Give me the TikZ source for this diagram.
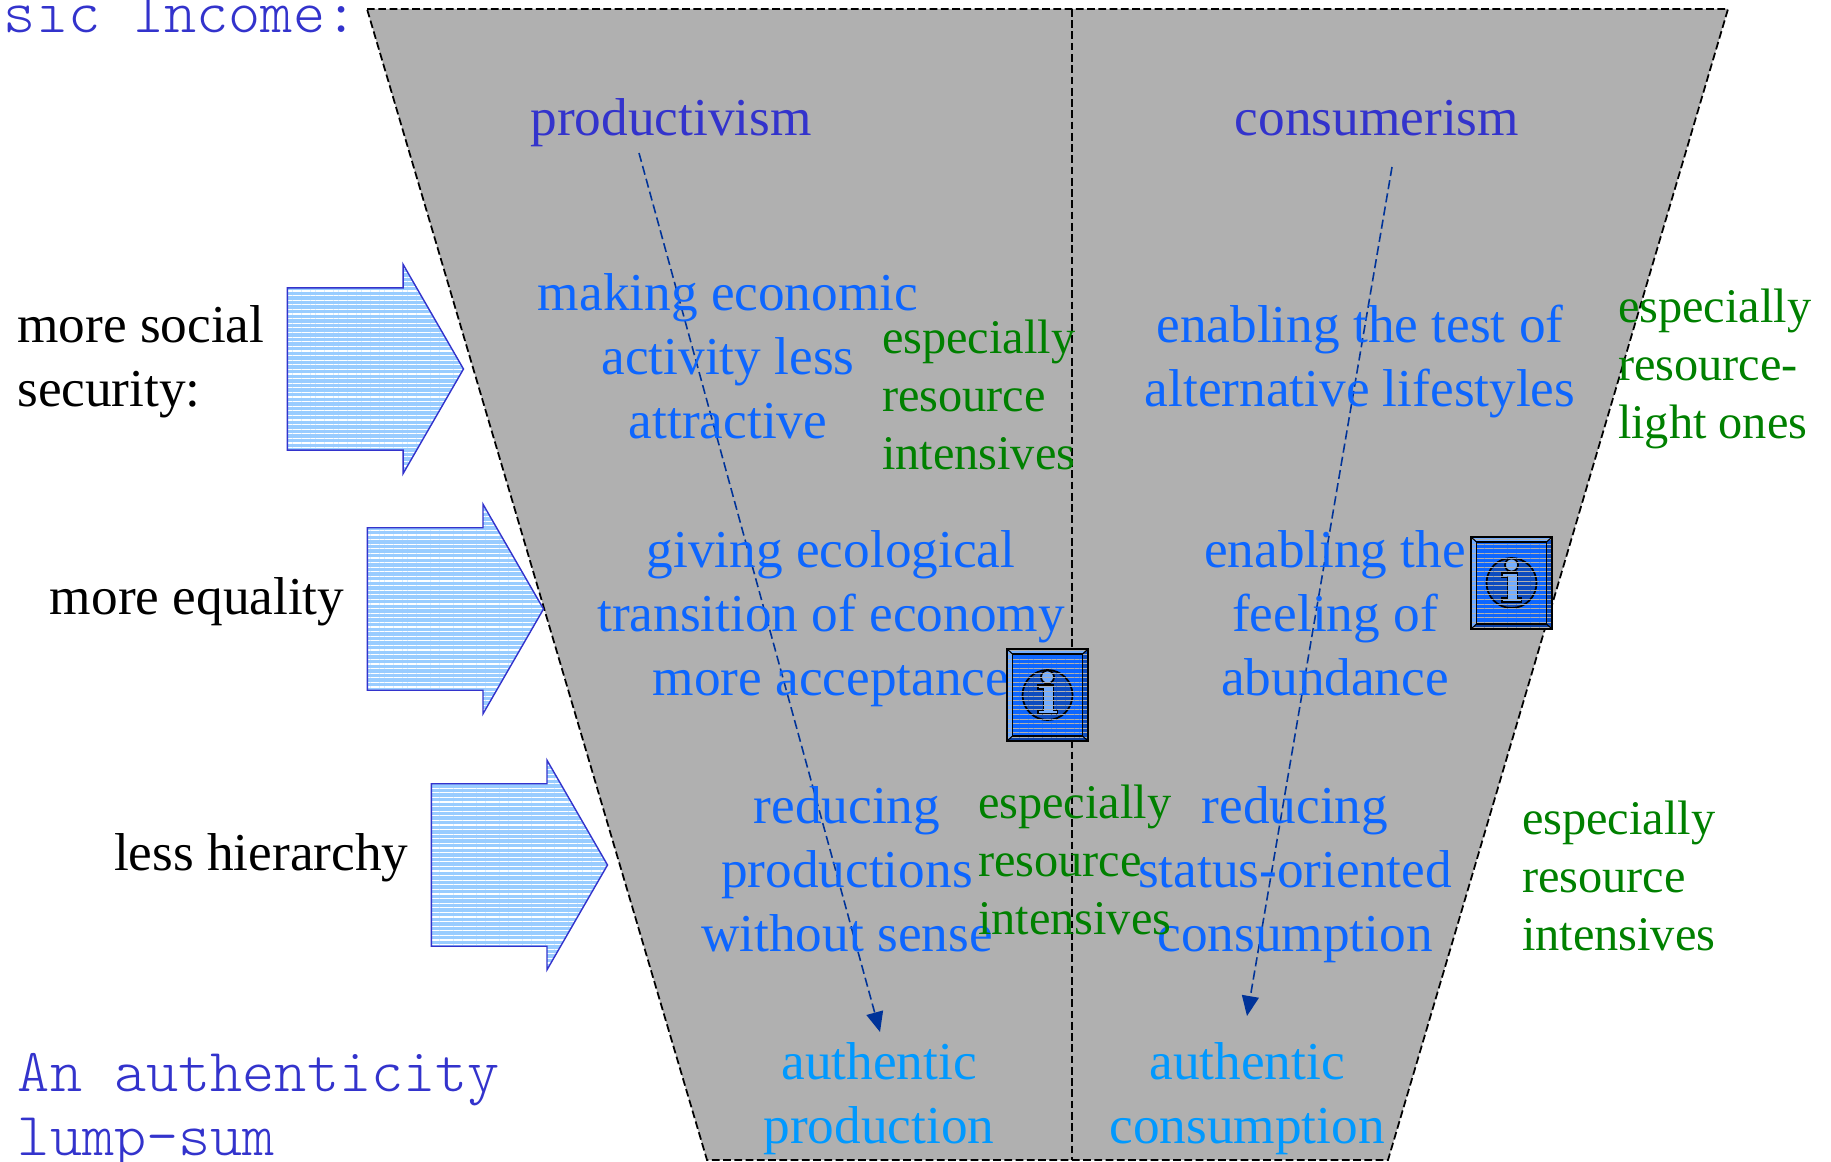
\documentclass[tikz,border=0pt]{standalone}
\usepackage{fontspec}
\setmainfont{Liberation Serif}
\setmonofont{Latin Modern Mono Light}
\usepackage{xcolor}
\usetikzlibrary{shapes.arrows, arrows.meta, positioning, patterns.meta}
\definecolor{funnelgray}{rgb}{0.69,0.69,0.69}
\definecolor{outlineblue}{rgb}{0.2,0.2,0.8}
\definecolor{hatchblue}{rgb}{0.6,0.8,1}
\definecolor{textblue}{rgb}{0.05,0.4,1}
\definecolor{skyblue}{rgb}{0,0.6,1}
\definecolor{darkarrow}{rgb}{0,0.2,0.6}
\definecolor{notegreen}{rgb}{0,0.5,0}
\definecolor{infolight}{rgb}{0.45,0.68,1}
\definecolor{infomid}{rgb}{0.05,0.3,0.75}
\definecolor{infodark}{rgb}{0.04,0.25,0.65}
\tikzset{
    base/.style={inner sep=0pt, outer sep=0pt, align=center, font=\fontsize{15.15}{18.2}\selectfont},
    heading/.style={base, text=outlineblue},
    effect/.style={base, text=textblue},
    goal/.style={base, text=skyblue},
    note/.style={base, align=left, text=notegreen, font=\fontsize{13.75}{16.5}\selectfont},
    cause/.style={base, align=left, text=black, yshift=0.07cm},
    monotext/.style={base, align=left, text=outlineblue, font=\fontsize{17.4}{18.2}\selectfont\ttfamily},
    bigarrow/.style={single arrow, draw=outlineblue, line width=0.4pt, inner xsep=0pt, inner ysep=0.805cm, outer sep=0pt,
        minimum height=1.76cm, single arrow head extend=0.235cm,
        single arrow tip angle=120, single arrow head indent=0cm, preaction={fill=hatchblue},
        pattern={Lines[angle=0, distance=0.46mm, line width=0.12mm]}, pattern color=white},
    border/.style={draw=black, line width=0.5pt, dash pattern=on 2.2pt off 1pt},
    line/.style={draw=darkarrow, line width=0.45pt, dash pattern=on 2.6pt off 1.2pt, -{Triangle[length=0.2cm, width=0.17cm]}},
    infobox/.pic={
        \fill [infolight] (-40.5,-46) -- (-35,-41) -- (-35,41) -- (-40.5,46) -- cycle;
        \fill [infolight] (-40.5,-46) -- (40.5,-46) -- (35,-41) -- (-35,-41) -- cycle;
        \fill [infomid] (40.5,-46) -- (40.5,46) -- (35,41) -- (35,-41) -- cycle;
        \fill [infodark] (-40.5,46) -- (40.5,46) -- (35,41) -- (-35,41) -- cycle;
        \fill [textblue] (-35,-41) rectangle (35,41);
        \draw [black, line width=0.5pt, fill=infomid] (0,0) circle (25);
        \draw [black, line width=0.5pt, fill=infolight] (0,-18) circle (6.5);
        \draw [black, line width=0.5pt, fill=infolight] (-9.5,-10) -- (6,-10) -- (6,15) -- (10,15) -- (10,19)
            -- (-9.5,19) -- (-9.5,15) -- (-4,15) -- (-4,-6) -- (-9.5,-6) -- cycle;
        \path [pattern={Lines[angle=0, distance=0.46mm, line width=0.1mm]}, pattern color=funnelgray] (-40.5,-46) rectangle (40.5,46);
        \draw [black, line width=0.6pt] (-40.5,-46) rectangle (40.5,46);
        \draw [black, line width=0.3pt] (-35,-41) rectangle (35,41);
        \draw [black, line width=0.3pt] (-40.5,-46) -- (-35,-41) (40.5,-46) -- (35,-41) (-40.5,46) -- (-35,41) (40.5,46) -- (35,41);
    }
}

\begin{document}
\begin{tikzpicture}[x=0.01cm, y=-0.01cm]
    \useasboundingbox (0,0) rectangle (1831,1161);

    \path [fill=funnelgray] (367,9) -- (1728,9) -- (1388,1160) -- (707,1160) -- cycle;
    \draw [border] (367,9) -- (1728,9) -- (1388,1160) -- (707,1160) -- cycle;
    \coordinate (FunnelTop) at (1072,9);
    \coordinate (FunnelBottom) at (1072,1160);
    \draw [border] (FunnelTop) -- (FunnelBottom);

    \node [monotext, anchor=base west] (BasicIncome) at (4,33) {sic Income:};
    \node [monotext, anchor=base west] (LumpSum) at (18,1155) {An authenticity\\lump-sum};

    \node [heading] (Productivism) at (671,123) {productivism};
    \node [heading] (Consumerism) at (1377,118) {consumerism};

    \node [bigarrow] (SecurityArrow) at (352,369) {};
    \node [bigarrow] (EqualityArrow) at (432,609) {};
    \node [bigarrow] (HierarchyArrow) at (496,865) {};
    \node [cause, left=0.23cm of SecurityArrow] (Security) {more social\\security:};
    \node [cause, left=0.23cm of EqualityArrow] (Equality) {more equality};
    \node [cause, left=0.23cm of HierarchyArrow] (Hierarchy) {less hierarchy};

    \coordinate (ProdStart) at (639,153);
    \coordinate (ProdEnd) at (880,1032);
    \coordinate (ConsStart) at (1392,167);
    \coordinate (ConsEnd) at (1247,1016);
    \draw [line] (ProdStart) -- (ProdEnd);
    \draw [line] (ConsStart) -- (ConsEnd);

    \node [effect] (Making) at (728,356) {making economic\\activity less\\attractive};
    \node [effect] (Enabling) at (1360,361) {enabling the test of\\alternative lifestyles};
    \node [effect] (Giving) at (831,619) {giving ecological\\transition of economy\\more acceptance};
    \node [effect] (Abundance) at (1335,613) {enabling the\\feeling of\\abundance};
    \node [effect] (Reducing) at (847,869) {reducing\\productions\\without sense};
    \node [effect] (Status) at (1295,875) {reducing\\status-oriented\\consumption};

    \node [note, anchor=west] (NoteMaking) at (882,395) {especially\\resource\\intensives};
    \node [note, anchor=west] (NoteEnabling) at (1618,369) {especially\\resource-\\light ones};
    \node [note, anchor=west] (NoteReducing) at (978,860) {especially\\resource\\intensives};
    \node [note, anchor=west] (NoteStatus) at (1522,876) {especially\\resource\\intensives};

    \pic (InfoGiving) at (1047.5,695) {infobox};
    \pic (InfoAbundance) at (1511.5,583) {infobox};

    \node [goal] (AuthProd) at (879,1099) {authentic\\production};
    \node [goal] (AuthCons) at (1247,1099) {authentic\\consumption};
\end{tikzpicture}
\end{document}
